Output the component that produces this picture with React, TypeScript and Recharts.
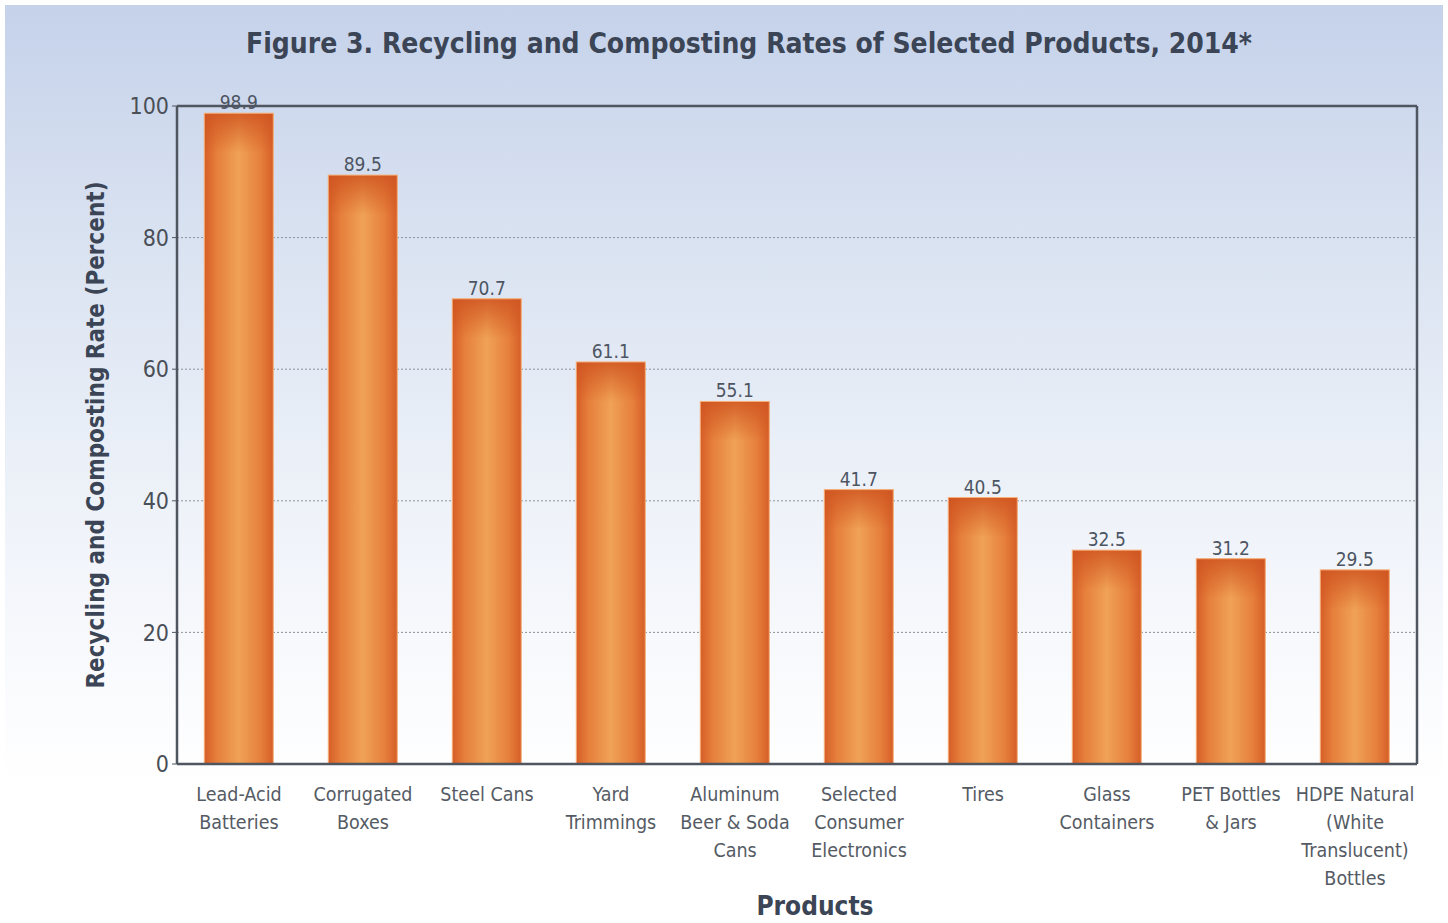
import React from "react";
import {
  BarChart,
  Bar,
  XAxis,
  YAxis,
  CartesianGrid,
  LabelList,
  ReferenceLine,
  Label,
} from "recharts";

const products = [
  "Lead-Acid\nBatteries",
  "Corrugated\nBoxes",
  "Steel Cans",
  "Yard\nTrimmings",
  "Aluminum\nBeer & Soda\nCans",
  "Selected\nConsumer\nElectronics",
  "Tires",
  "Glass\nContainers",
  "PET Bottles\n& Jars",
  "HDPE Natural\n(White\nTranslucent)\nBottles",
];
const rates = [98.9, 89.5, 70.7, 61.1, 55.1, 41.7, 40.5, 32.5, 31.2, 29.5];
const yTicks = [0, 20, 40, 60, 80, 100];

const chartData = products.map((p, i) => ({ product: p, rate: rates[i] }));

const FONT = "'DejaVu Sans Condensed', 'DejaVu Sans', sans-serif";
const INK = "#3b4556";

function ProductTick(props: any) {
  const { x, y, payload } = props;
  const lines = String(payload.value).split("\n");
  return (
    <g transform={`translate(${x},${y})`}>
      <text textAnchor="middle" fill="#555b64" fontSize={19.5} fontFamily={FONT}>
        {lines.map((l, i) => (
          <tspan key={i} x={0} dy={i === 0 ? 29 : 28}>
            {l}
          </tspan>
        ))}
      </text>
    </g>
  );
}

function OrangeBar(props: any) {
  const { x, y, width, height } = props;
  if (!height || height <= 0) return null;
  return (
    <g>
      <rect x={x} y={y} width={width} height={height} fill="url(#barSide)" />
      <rect x={x} y={y} width={width} height={Math.min(40, height)} fill="url(#barTop)" />
      <rect x={x} y={y} width={width} height={height} fill="none" stroke="#f7b07a" strokeWidth={1} />
    </g>
  );
}

export default function App() {
  return (
    <div
      style={{
        position: "absolute",
        left: 0,
        top: 0,
        width: 1448,
        height: 923,
        background: "#fff",
        overflow: "hidden",
        fontFamily: FONT,
      }}
    >
      <div
        style={{
          position: "absolute",
          left: 5,
          top: 5,
          right: 5,
          bottom: 0,
          background: "linear-gradient(180deg, #c5d2ea 0%, #d9e2f1 25%, #ebf0f8 50%, #f9fafd 72%, #ffffff 85%)",
        }}
      />
      <div
        style={{
          position: "absolute",
          left: 0,
          top: 27,
          width: 1498,
          textAlign: "center",
          fontWeight: 700,
          fontSize: 28,
          color: INK,
          whiteSpace: "nowrap",
        }}
      >
        Figure 3. Recycling and Composting Rates of Selected Products, 2014*
      </div>
      <div style={{ position: "absolute", left: 0, top: 0 }}>
        <BarChart
          width={1448}
          height={923}
          data={chartData}
          margin={{ top: 106, right: 30, bottom: 39, left: 77 }}
          barCategoryGap="22%"
        >
          <defs>
            <linearGradient id="barSide" x1="0" y1="0" x2="1" y2="0">
              <stop offset="0%" stopColor="#d65e27" />
              <stop offset="18%" stopColor="#e67f3c" />
              <stop offset="50%" stopColor="#f0a256" />
              <stop offset="82%" stopColor="#e67f3c" />
              <stop offset="100%" stopColor="#d65e27" />
            </linearGradient>
            <linearGradient id="barTop" x1="0" y1="0" x2="0" y2="1">
              <stop offset="0%" stopColor="#cf5420" stopOpacity={0.85} />
              <stop offset="100%" stopColor="#cf5420" stopOpacity={0} />
            </linearGradient>
          </defs>
          <CartesianGrid
            vertical={false}
            stroke="#8d939c"
            strokeDasharray="2 2"
            strokeWidth={1}
          />
          <XAxis
            dataKey="product"
            interval={0}
            tickLine={false}
            axisLine={{ stroke: "#4f5660", strokeWidth: 2.5 }}
            tick={<ProductTick />}
            height={120}
          >
            <Label
              value="Products"
              position="insideBottom"
              offset={-31}
              dx={18}
              fill={INK}
              fontSize={26}
              fontWeight={700}
              fontFamily={FONT}
            />
          </XAxis>
          <YAxis
            domain={[0, 100]}
            ticks={yTicks}
            width={100}
            tickSize={5}
            tickMargin={3}
            tickLine={{ stroke: "#4f5660" }}
            axisLine={{ stroke: "#4f5660", strokeWidth: 2.5 }}
            tick={{ fill: "#4a4f57", fontSize: 23, fontFamily: FONT }}
          >
            <Label
              value="Recycling and Composting  Rate (Percent)"
              angle={-90}
              position="insideLeft"
              offset={18}
              fill={INK}
              fontSize={24}
              fontWeight={700}
              fontFamily={FONT}
              style={{ textAnchor: "middle" }}
            />
          </YAxis>
          <YAxis
            yAxisId="frame"
            orientation="right"
            domain={[0, 100]}
            width={1}
            tick={false}
            tickLine={false}
            axisLine={{ stroke: "#4f5660", strokeWidth: 2.5 }}
          />
          <ReferenceLine y={100} stroke="#4f5660" strokeWidth={2.5} />
          <Bar dataKey="rate" shape={<OrangeBar />} isAnimationActive={false}>
            <LabelList
              dataKey="rate"
              position="top"
              offset={4}
              fill="#4d5563"
              fontSize={19}
              fontFamily={FONT}
              formatter={(v: any) => Number(v).toFixed(1)}
            />
          </Bar>
        </BarChart>
      </div>
    </div>
  );
}
